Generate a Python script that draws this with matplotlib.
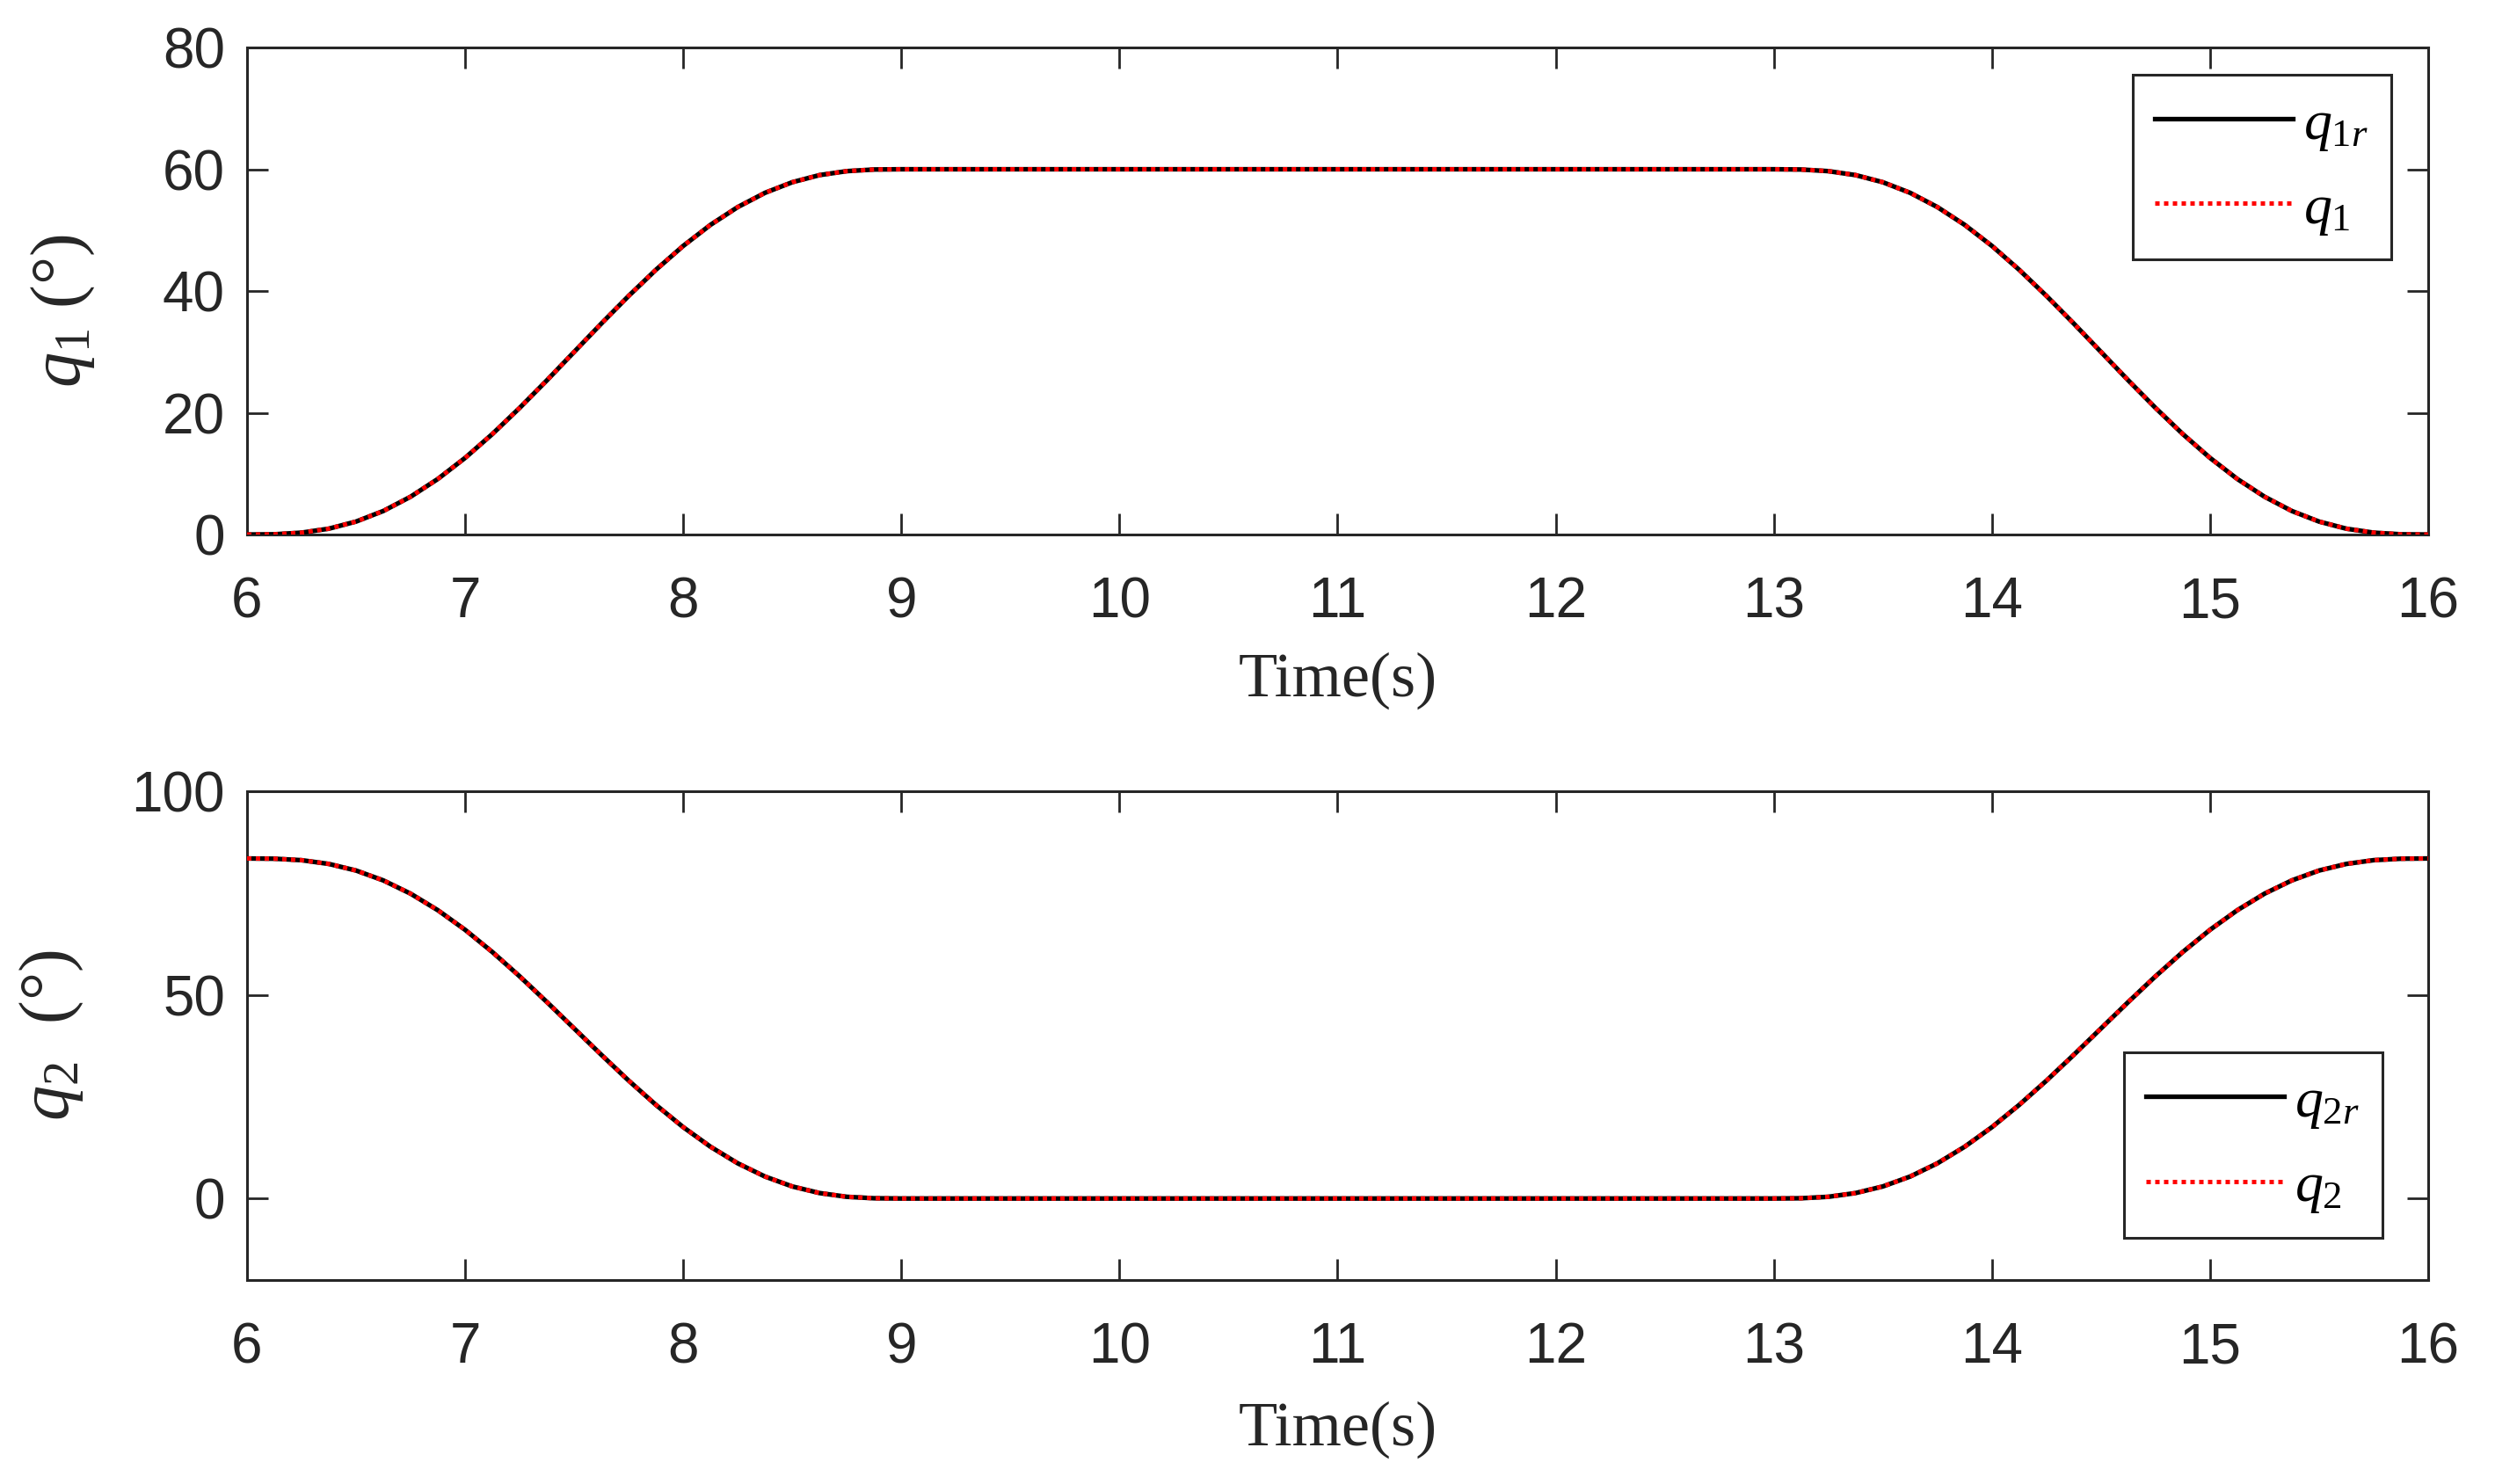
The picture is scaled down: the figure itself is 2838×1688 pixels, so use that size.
import matplotlib
matplotlib.use('Agg')
import matplotlib.pyplot as plt
import numpy as np

## {{{                          --     data     --

# samples every 0.125 s on the two transitions; the plateau in between is flat
t_rise = np.linspace(6.0, 9.0, 25)
t_fall = np.linspace(13.0, 16.0, 25)
time = np.concatenate([t_rise, t_fall])

q1r = [0, 0.04, 0.31, 0.96, 2.13, 3.87, 6.21, 9.13, 12.59, 16.51, 20.80, 25.33, 30.00,
       34.67, 39.20, 43.49, 47.41, 50.87, 53.79, 56.13, 57.87, 59.04, 59.69, 59.96, 60,
       60, 59.96, 59.69, 59.04, 57.87, 56.13, 53.79, 50.87, 47.41, 43.49, 39.20, 34.67,
       30.00, 25.33, 20.80, 16.51, 12.59, 9.13, 6.21, 3.87, 2.13, 0.96, 0.31, 0.04, 0]
q1 = [0, 0.04, 0.31, 0.96, 2.13, 3.87, 6.21, 9.13, 12.59, 16.51, 20.80, 25.33, 30.00,
      34.67, 39.20, 43.49, 47.41, 50.87, 53.79, 56.13, 57.87, 59.04, 59.69, 59.96, 60,
      60, 59.96, 59.69, 59.04, 57.87, 56.13, 53.79, 50.87, 47.41, 43.49, 39.20, 34.67,
      30.00, 25.33, 20.80, 16.51, 12.59, 9.13, 6.21, 3.87, 2.13, 0.96, 0.31, 0.04, 0]

q2r = [83.5, 83.44, 83.08, 82.16, 80.54, 78.11, 74.86, 70.79, 65.98, 60.52, 54.56, 48.24,
       41.75, 35.26, 28.94, 22.98, 17.52, 12.71, 8.64, 5.39, 2.96, 1.34, 0.42, 0.06, 0,
       0, 0.06, 0.42, 1.34, 2.96, 5.39, 8.64, 12.71, 17.52, 22.98, 28.94, 35.26, 41.75,
       48.24, 54.56, 60.52, 65.98, 70.79, 74.86, 78.11, 80.54, 82.16, 83.08, 83.44, 83.5]
q2 = [83.5, 83.44, 83.08, 82.16, 80.54, 78.11, 74.86, 70.79, 65.98, 60.52, 54.56, 48.24,
      41.75, 35.26, 28.94, 22.98, 17.52, 12.71, 8.64, 5.39, 2.96, 1.34, 0.42, 0.06, 0,
      0, 0.06, 0.42, 1.34, 2.96, 5.39, 8.64, 12.71, 17.52, 22.98, 28.94, 35.26, 41.75,
      48.24, 54.56, 60.52, 65.98, 70.79, 74.86, 78.11, 80.54, 82.16, 83.08, 83.44, 83.5]

xticks = [6, 7, 8, 9, 10, 11, 12, 13, 14, 15, 16]
q1_ticks = [0, 20, 40, 60, 80]
q2_ticks = [0, 50, 100]

##────────────────────────────────────────────────────────────────────────────}}}

## {{{                          --     style     --

GREY = '#262626'
plt.rcParams['mathtext.fontset'] = 'custom'
plt.rcParams['mathtext.it'] = 'Liberation Serif:italic'
plt.rcParams['mathtext.rm'] = 'Liberation Serif'
plt.rcParams['font.family'] = ['Liberation Sans', 'DejaVu Sans']

TICK_FS = 46
XLABEL_FS = 52
YLABEL_FS = 58
LEG_FS = 46

##────────────────────────────────────────────────────────────────────────────}}}


def style_axes(ax, yticks, ylim, xlabelpad):
    ax.set_xlim(6, 16)
    ax.set_ylim(*ylim)
    ax.set_xticks(xticks)
    ax.set_yticks(yticks)
    ax.tick_params(direction='in', length=17, width=2, colors=GREY,
                   labelsize=TICK_FS, top=True, right=True, pad=18)
    ax.tick_params(axis='x', pad=34)
    for sp in ax.spines.values():
        sp.set_color(GREY)
        sp.set_linewidth(2.2)
    ax.set_xlabel('Time(s)', fontsize=XLABEL_FS, family='Liberation Serif',
                  color=GREY, labelpad=xlabelpad)


def plot_pair(ax, ref, act, ref_label, act_label):
    ax.plot(time, ref, color='black', lw=3.8, label=ref_label, zorder=3)
    ax.plot(time, act, color='red', lw=3.6, ls=(0, (1, 1)), label=act_label, zorder=4)


fig = plt.figure(figsize=(28.38, 16.88), dpi=100)
ax1 = fig.add_axes([0.099, 0.6398, 0.8742, 0.3282])
ax2 = fig.add_axes([0.099, 0.1375, 0.8742, 0.3293])

plot_pair(ax1, q1r, q1, r'$q_{\mathit{1r}}$', r'$q_{\mathit{1}}$')
style_axes(ax1, q1_ticks, (0, 80), 19)
ax1.set_ylabel(r'$q_{\mathit{1}}$ (°)', fontsize=YLABEL_FS, family='Liberation Serif', color=GREY)
ax1.yaxis.set_label_coords(-0.069, 0.46)

plot_pair(ax2, q2r, q2, r'$q_{\mathit{2r}}$', r'$q_{\mathit{2}}$')
style_axes(ax2, q2_ticks, (-20, 100), 22)
ax2.set_ylabel(r'$q_{\mathit{2}}$  (°)', fontsize=YLABEL_FS, family='Liberation Serif', color=GREY)
ax2.yaxis.set_label_coords(-0.074, 0.5)

leg_kw = dict(fontsize=LEG_FS, fancybox=False, edgecolor=GREY, framealpha=1,
              handlelength=2.45, handletextpad=0.2, labelspacing=0.52,
              borderpad=0.4, borderaxespad=0)
leg1 = ax1.legend(loc='upper right', bbox_to_anchor=(0.983, 0.944), **leg_kw)
leg2 = ax2.legend(loc='lower right', bbox_to_anchor=(0.979, 0.087), **leg_kw)
for leg in (leg1, leg2):
    leg.get_frame().set_linewidth(2.2)

fig.savefig('out.png', dpi=100, facecolor='white')
